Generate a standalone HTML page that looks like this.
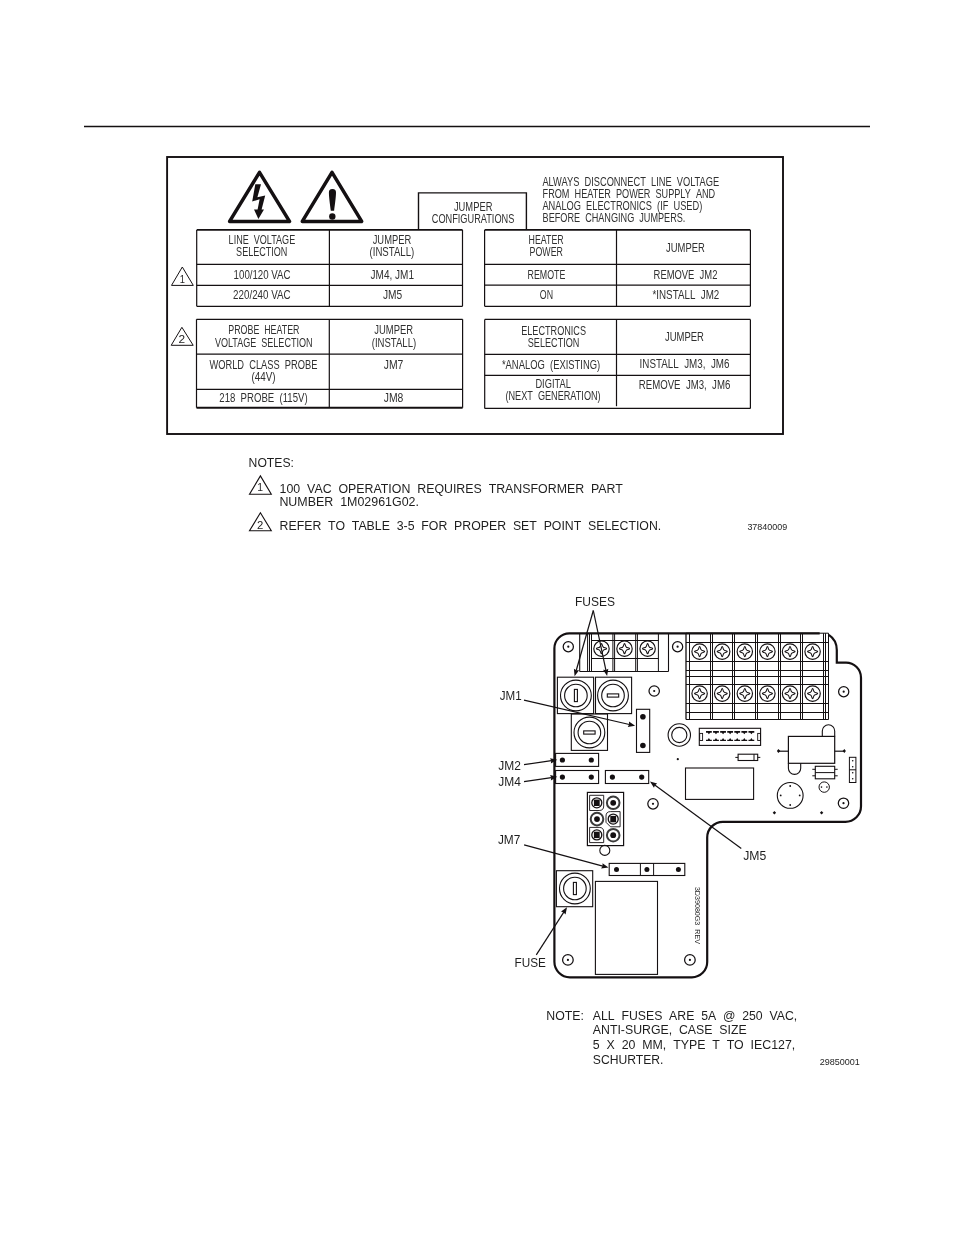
<!DOCTYPE html><html><head><meta charset="utf-8"><style>html,body{margin:0;padding:0;background:#fff;width:954px;height:1235px;overflow:hidden}svg{display:block;will-change:transform}text{font-family:"Liberation Sans",sans-serif}</style></head><body>
<svg width="954" height="1235" viewBox="0 0 954 1235">
<line x1="84" y1="126.5" x2="870" y2="126.5" stroke="#141012" stroke-width="1.4" />
<rect x="167.1" y="157" width="615.9" height="277" stroke="#141012" stroke-width="1.9" fill="none" />
<path d="M259.5,172.3 L289.5,221.4 L229.6,221.4 Z" fill="none" stroke="#141012" stroke-width="3.5" stroke-linejoin="round"/>
<path d="M332.0,172.3 L361.7,221.4 L302.3,221.4 Z" fill="none" stroke="#141012" stroke-width="3.5" stroke-linejoin="round"/>
<path d="M255.3,184.2 L261.0,184.2 L257.4,197.3 L265.2,195.6 L261.6,209.4 L264.0,209.4 L258.4,219 L254.0,209.4 L257.6,209.4 L259.6,199.3 L252.2,201.4 Z" fill="#141012"/>
<path d="M332.4,189 C335.2,189 336,190.5 336,192.5 C336,197 334.8,205 334.1,210.8 L330.8,210.8 C330.1,205 328.9,197 328.9,192.5 C328.9,190.5 329.7,189 332.4,189 Z" fill="#141012"/>
<circle cx="332.3" cy="216.5" r="3.2" fill="#141012"/>
<path d="M418.5,229.9 L418.5,192.9 L526.4,192.9 L526.4,229.9" fill="none" stroke="#141012" stroke-width="1.4"/>
<line x1="196.7" y1="229.9" x2="462.5" y2="229.9" stroke="#141012" stroke-width="1.8" />
<line x1="196.7" y1="306.3" x2="462.5" y2="306.3" stroke="#141012" stroke-width="1.2" />
<line x1="196.7" y1="229.9" x2="196.7" y2="306.3" stroke="#141012" stroke-width="1.2" />
<line x1="462.5" y1="229.9" x2="462.5" y2="306.3" stroke="#141012" stroke-width="1.2" />
<line x1="329.4" y1="229.9" x2="329.4" y2="306.3" stroke="#141012" stroke-width="1.2" />
<line x1="196.7" y1="264.3" x2="462.5" y2="264.3" stroke="#141012" stroke-width="1.2" />
<line x1="196.7" y1="285.4" x2="462.5" y2="285.4" stroke="#141012" stroke-width="1.2" />
<line x1="484.6" y1="229.9" x2="750.4" y2="229.9" stroke="#141012" stroke-width="1.8" />
<line x1="484.6" y1="306.3" x2="750.4" y2="306.3" stroke="#141012" stroke-width="1.2" />
<line x1="484.6" y1="229.9" x2="484.6" y2="306.3" stroke="#141012" stroke-width="1.2" />
<line x1="750.4" y1="229.9" x2="750.4" y2="306.3" stroke="#141012" stroke-width="1.2" />
<line x1="616.5" y1="229.9" x2="616.5" y2="306.3" stroke="#141012" stroke-width="1.2" />
<line x1="484.6" y1="264.3" x2="750.4" y2="264.3" stroke="#141012" stroke-width="1.2" />
<line x1="484.6" y1="285.2" x2="750.4" y2="285.2" stroke="#141012" stroke-width="1.2" />
<line x1="196.5" y1="319.3" x2="462.6" y2="319.3" stroke="#141012" stroke-width="1.3" />
<line x1="196.5" y1="407.7" x2="462.6" y2="407.7" stroke="#141012" stroke-width="2.0" />
<line x1="196.5" y1="319.3" x2="196.5" y2="407.7" stroke="#141012" stroke-width="1.2" />
<line x1="462.6" y1="319.3" x2="462.6" y2="407.7" stroke="#141012" stroke-width="1.2" />
<line x1="329.3" y1="319.3" x2="329.3" y2="407.7" stroke="#141012" stroke-width="1.2" />
<line x1="196.5" y1="354.1" x2="462.6" y2="354.1" stroke="#141012" stroke-width="1.2" />
<line x1="196.5" y1="389.3" x2="462.6" y2="389.3" stroke="#141012" stroke-width="1.2" />
<line x1="484.7" y1="319.4" x2="750.4" y2="319.4" stroke="#141012" stroke-width="1.3" />
<line x1="484.7" y1="408.4" x2="750.4" y2="408.4" stroke="#141012" stroke-width="1.3" />
<line x1="484.7" y1="319.4" x2="484.7" y2="408.4" stroke="#141012" stroke-width="1.2" />
<line x1="750.4" y1="319.4" x2="750.4" y2="408.4" stroke="#141012" stroke-width="1.2" />
<line x1="616.5" y1="319.4" x2="616.5" y2="406.2" stroke="#141012" stroke-width="1.2" />
<line x1="484.7" y1="354.4" x2="750.4" y2="354.4" stroke="#141012" stroke-width="1.2" />
<line x1="484.7" y1="375.4" x2="750.4" y2="375.4" stroke="#141012" stroke-width="1.2" />
<path d="M182.3,267.0 L193.3,285.4 L171.5,285.4 Z" fill="none" stroke="#141012" stroke-width="1.0" stroke-linejoin="miter"/>
<text x="179.8" y="282.6" font-size="11.5" fill="#1e1e1e" textLength="5.2" lengthAdjust="spacingAndGlyphs" >1</text>
<path d="M181.9,327.3 L193.2,345.3 L171.2,345.3 Z" fill="none" stroke="#141012" stroke-width="1.0" stroke-linejoin="miter"/>
<text x="178.6" y="343.0" font-size="11.5" fill="#1e1e1e" textLength="6.6" lengthAdjust="spacingAndGlyphs" >2</text>
<text x="228.6" y="243.7" font-size="12.9" fill="#303030" textLength="66.6" lengthAdjust="spacingAndGlyphs" >LINE&#160;&#160;VOLTAGE</text>
<text x="236.1" y="255.9" font-size="12.9" fill="#303030" textLength="51.3" lengthAdjust="spacingAndGlyphs" >SELECTION</text>
<text x="372.7" y="243.9" font-size="12.9" fill="#303030" textLength="38.5" lengthAdjust="spacingAndGlyphs" >JUMPER</text>
<text x="369.5" y="255.7" font-size="12.9" fill="#303030" textLength="44.8" lengthAdjust="spacingAndGlyphs" >(INSTALL)</text>
<text x="233.6" y="279.0" font-size="12.9" fill="#303030" textLength="57.0" lengthAdjust="spacingAndGlyphs" >100/120&#160;VAC</text>
<text x="233.1" y="298.8" font-size="12.9" fill="#303030" textLength="57.5" lengthAdjust="spacingAndGlyphs" >220/240&#160;VAC</text>
<text x="370.6" y="278.8" font-size="12.9" fill="#303030" textLength="43.4" lengthAdjust="spacingAndGlyphs" >JM4,&#160;JM1</text>
<text x="382.9" y="298.9" font-size="12.9" fill="#303030" textLength="19.2" lengthAdjust="spacingAndGlyphs" >JM5</text>
<text x="453.9" y="210.9" font-size="12.9" fill="#303030" textLength="38.5" lengthAdjust="spacingAndGlyphs" >JUMPER</text>
<text x="431.8" y="222.7" font-size="12.9" fill="#303030" textLength="82.5" lengthAdjust="spacingAndGlyphs" >CONFIGURATIONS</text>
<text x="542.4" y="185.8" font-size="12.9" fill="#303030" textLength="176.8" lengthAdjust="spacingAndGlyphs" >ALWAYS&#160;&#160;DISCONNECT&#160;&#160;LINE&#160;&#160;VOLTAGE</text>
<text x="542.6" y="197.8" font-size="12.9" fill="#303030" textLength="172.6" lengthAdjust="spacingAndGlyphs" >FROM&#160;&#160;HEATER&#160;&#160;POWER&#160;&#160;SUPPLY&#160;&#160;AND</text>
<text x="542.4" y="209.8" font-size="12.9" fill="#303030" textLength="159.9" lengthAdjust="spacingAndGlyphs" >ANALOG&#160;&#160;ELECTRONICS&#160;&#160;(IF&#160;&#160;USED)</text>
<text x="542.6" y="222.4" font-size="12.9" fill="#303030" textLength="142.8" lengthAdjust="spacingAndGlyphs" >BEFORE&#160;&#160;CHANGING&#160;&#160;JUMPERS.</text>
<text x="528.6" y="243.9" font-size="12.9" fill="#303030" textLength="35.1" lengthAdjust="spacingAndGlyphs" >HEATER</text>
<text x="529.6" y="255.7" font-size="12.9" fill="#303030" textLength="33.3" lengthAdjust="spacingAndGlyphs" >POWER</text>
<text x="666.1" y="252.0" font-size="12.9" fill="#303030" textLength="38.7" lengthAdjust="spacingAndGlyphs" >JUMPER</text>
<text x="527.5" y="278.8" font-size="12.9" fill="#303030" textLength="37.8" lengthAdjust="spacingAndGlyphs" >REMOTE</text>
<text x="539.8" y="298.9" font-size="12.9" fill="#303030" textLength="13.2" lengthAdjust="spacingAndGlyphs" >ON</text>
<text x="653.6" y="278.8" font-size="12.9" fill="#303030" textLength="63.8" lengthAdjust="spacingAndGlyphs" >REMOVE&#160;&#160;JM2</text>
<text x="652.5" y="298.9" font-size="12.9" fill="#303030" textLength="66.8" lengthAdjust="spacingAndGlyphs" >*INSTALL&#160;&#160;JM2</text>
<text x="228.3" y="334.1" font-size="12.9" fill="#303030" textLength="71.2" lengthAdjust="spacingAndGlyphs" >PROBE&#160;&#160;HEATER</text>
<text x="214.9" y="346.9" font-size="12.9" fill="#303030" textLength="97.6" lengthAdjust="spacingAndGlyphs" >VOLTAGE&#160;&#160;SELECTION</text>
<text x="209.5" y="368.8" font-size="12.9" fill="#303030" textLength="107.9" lengthAdjust="spacingAndGlyphs" >WORLD&#160;&#160;CLASS&#160;&#160;PROBE</text>
<text x="251.4" y="380.6" font-size="12.9" fill="#303030" textLength="24.1" lengthAdjust="spacingAndGlyphs" >(44V)</text>
<text x="219.3" y="401.8" font-size="12.9" fill="#303030" textLength="88.3" lengthAdjust="spacingAndGlyphs" >218&#160;&#160;PROBE&#160;&#160;(115V)</text>
<text x="374.3" y="334.1" font-size="12.9" fill="#303030" textLength="38.7" lengthAdjust="spacingAndGlyphs" >JUMPER</text>
<text x="371.7" y="346.9" font-size="12.9" fill="#303030" textLength="44.5" lengthAdjust="spacingAndGlyphs" >(INSTALL)</text>
<text x="383.8" y="368.8" font-size="12.9" fill="#303030" textLength="19.6" lengthAdjust="spacingAndGlyphs" >JM7</text>
<text x="383.8" y="401.8" font-size="12.9" fill="#303030" textLength="19.6" lengthAdjust="spacingAndGlyphs" >JM8</text>
<text x="521.2" y="334.7" font-size="12.9" fill="#303030" textLength="64.8" lengthAdjust="spacingAndGlyphs" >ELECTRONICS</text>
<text x="527.8" y="346.6" font-size="12.9" fill="#303030" textLength="51.6" lengthAdjust="spacingAndGlyphs" >SELECTION</text>
<text x="501.9" y="368.5" font-size="12.9" fill="#303030" textLength="98.3" lengthAdjust="spacingAndGlyphs" >*ANALOG&#160;&#160;(EXISTING)</text>
<text x="535.4" y="388.3" font-size="12.9" fill="#303030" textLength="35.4" lengthAdjust="spacingAndGlyphs" >DIGITAL</text>
<text x="505.5" y="400.4" font-size="12.9" fill="#303030" textLength="95.1" lengthAdjust="spacingAndGlyphs" >(NEXT&#160;&#160;GENERATION)</text>
<text x="665.0" y="340.7" font-size="12.9" fill="#303030" textLength="38.9" lengthAdjust="spacingAndGlyphs" >JUMPER</text>
<text x="639.6" y="367.9" font-size="12.9" fill="#303030" textLength="89.9" lengthAdjust="spacingAndGlyphs" >INSTALL&#160;&#160;JM3,&#160;&#160;JM6</text>
<text x="638.8" y="388.6" font-size="12.9" fill="#303030" textLength="91.5" lengthAdjust="spacingAndGlyphs" >REMOVE&#160;&#160;JM3,&#160;&#160;JM6</text>
<text x="248.6" y="466.9" font-size="12.0" fill="#1e1e1e" textLength="45.3" lengthAdjust="spacingAndGlyphs" >NOTES:</text>
<path d="M260.4,475.9 L271.3,494.3 L249.5,494.3 Z" fill="none" stroke="#141012" stroke-width="1.1" stroke-linejoin="miter"/>
<text x="257.2" y="491.4" font-size="10.5" fill="#1e1e1e" textLength="5.8" lengthAdjust="spacingAndGlyphs" >1</text>
<text x="279.6" y="492.8" font-size="12.0" fill="#1e1e1e" textLength="343.2" lengthAdjust="spacingAndGlyphs" >100&#160;&#160;VAC&#160;&#160;OPERATION&#160;&#160;REQUIRES&#160;&#160;TRANSFORMER&#160;&#160;PART</text>
<text x="279.4" y="505.7" font-size="12.0" fill="#1e1e1e" textLength="139.6" lengthAdjust="spacingAndGlyphs" >NUMBER&#160;&#160;1M02961G02.</text>
<path d="M260.4,512.8 L271.3,530.8 L249.5,530.8 Z" fill="none" stroke="#141012" stroke-width="1.1" stroke-linejoin="miter"/>
<text x="257.0" y="528.7" font-size="10.5" fill="#1e1e1e" textLength="6.3" lengthAdjust="spacingAndGlyphs" >2</text>
<text x="279.6" y="529.8" font-size="12.0" fill="#1e1e1e" textLength="381.6" lengthAdjust="spacingAndGlyphs" >REFER&#160;&#160;TO&#160;&#160;TABLE&#160;&#160;3-5&#160;&#160;FOR&#160;&#160;PROPER&#160;&#160;SET&#160;&#160;POINT&#160;&#160;SELECTION.</text>
<text x="747.4" y="529.8" font-size="9.5" fill="#1e1e1e" textLength="39.8" lengthAdjust="spacingAndGlyphs" >37840009</text>
<path d="M819.7,633.3 L569.4,633.3 A15,15 0 0 0 554.4,648.3 L554.4,961.8 A15.5,15.5 0 0 0 569.9,977.3 L691.9,977.3 A15.3,15.3 0 0 0 707.2,962 L707.2,837.5 A15.7,15.7 0 0 1 722.9,821.8 L845.4,821.8 A15.6,15.6 0 0 0 861.0,806.2 L861.0,677.7 A15,15 0 0 0 846,662.7 L836.8,662.7 L836.8,650 Q836.8,640 828.8,634.8" fill="none" stroke="#141012" stroke-width="2.2"/>
<line x1="579.7" y1="633.3" x2="579.7" y2="671.5" stroke="#141012" stroke-width="1.1" />
<line x1="579.7" y1="671.5" x2="668.5" y2="671.5" stroke="#141012" stroke-width="1.2" />
<line x1="668.5" y1="633.3" x2="668.5" y2="671.5" stroke="#141012" stroke-width="1.1" />
<line x1="587.6" y1="633.3" x2="587.6" y2="671.5" stroke="#141012" stroke-width="1.0" />
<line x1="589.5" y1="633.3" x2="589.5" y2="671.5" stroke="#141012" stroke-width="1.0" />
<line x1="591.5" y1="633.3" x2="591.5" y2="671.5" stroke="#141012" stroke-width="1.0" />
<line x1="612.9" y1="633.3" x2="612.9" y2="671.5" stroke="#141012" stroke-width="1.0" />
<line x1="614.6" y1="633.3" x2="614.6" y2="671.5" stroke="#141012" stroke-width="1.0" />
<line x1="635.7" y1="633.3" x2="635.7" y2="671.5" stroke="#141012" stroke-width="1.0" />
<line x1="637.4" y1="633.3" x2="637.4" y2="671.5" stroke="#141012" stroke-width="1.0" />
<line x1="658.4" y1="633.3" x2="658.4" y2="671.5" stroke="#141012" stroke-width="1.0" />
<line x1="591.5" y1="640.5" x2="658.4" y2="640.5" stroke="#141012" stroke-width="1.0" />
<line x1="591.5" y1="658.5" x2="658.4" y2="658.5" stroke="#141012" stroke-width="1.0" />
<circle cx="601.5" cy="648.7" r="7.7" stroke="#141012" stroke-width="1.15" fill="none"/>
<path d="M601.5,643.6 C602.35,643.6 602.3,646.6 603.25,646.95 C603.6,647.9000000000001 606.6,647.85 606.6,648.7 C606.6,649.5500000000001 603.6,649.5 603.25,650.45 C602.3,650.8000000000001 602.35,653.8000000000001 601.5,653.8000000000001 C600.65,653.8000000000001 600.7,650.8000000000001 599.75,650.45 C599.4,649.5 596.4,649.5500000000001 596.4,648.7 C596.4,647.85 599.4,647.9000000000001 599.75,646.95 C600.7,646.6 600.65,643.6 601.5,643.6 Z" fill="none" stroke="#141012" stroke-width="1.05"/>
<circle cx="624.5" cy="648.7" r="7.7" stroke="#141012" stroke-width="1.15" fill="none"/>
<path d="M624.5,643.6 C625.35,643.6 625.3,646.6 626.25,646.95 C626.6,647.9000000000001 629.6,647.85 629.6,648.7 C629.6,649.5500000000001 626.6,649.5 626.25,650.45 C625.3,650.8000000000001 625.35,653.8000000000001 624.5,653.8000000000001 C623.65,653.8000000000001 623.7,650.8000000000001 622.75,650.45 C622.4,649.5 619.4,649.5500000000001 619.4,648.7 C619.4,647.85 622.4,647.9000000000001 622.75,646.95 C623.7,646.6 623.65,643.6 624.5,643.6 Z" fill="none" stroke="#141012" stroke-width="1.05"/>
<circle cx="647.6" cy="648.7" r="7.7" stroke="#141012" stroke-width="1.15" fill="none"/>
<path d="M647.6,643.6 C648.45,643.6 648.4,646.6 649.35,646.95 C649.7,647.9000000000001 652.7,647.85 652.7,648.7 C652.7,649.5500000000001 649.7,649.5 649.35,650.45 C648.4,650.8000000000001 648.45,653.8000000000001 647.6,653.8000000000001 C646.75,653.8000000000001 646.8000000000001,650.8000000000001 645.85,650.45 C645.5,649.5 642.5,649.5500000000001 642.5,648.7 C642.5,647.85 645.5,647.9000000000001 645.85,646.95 C646.8000000000001,646.6 646.75,643.6 647.6,643.6 Z" fill="none" stroke="#141012" stroke-width="1.05"/>
<circle cx="568.3" cy="646.7" r="5.1" stroke="#141012" stroke-width="1.25" fill="none"/>
<circle cx="568.3" cy="646.7" r="1.1" fill="#141012"/>
<circle cx="677.6" cy="646.7" r="5.1" stroke="#141012" stroke-width="1.25" fill="none"/>
<circle cx="677.6" cy="646.7" r="1.1" fill="#141012"/>
<circle cx="654.2" cy="691.0" r="5.2" stroke="#141012" stroke-width="1.25" fill="none"/>
<circle cx="654.2" cy="691.0" r="1.1" fill="#141012"/>
<circle cx="843.7" cy="691.7" r="5.1" stroke="#141012" stroke-width="1.25" fill="none"/>
<circle cx="843.7" cy="691.7" r="1.1" fill="#141012"/>
<circle cx="653.0" cy="803.8" r="5.2" stroke="#141012" stroke-width="1.25" fill="none"/>
<circle cx="653.0" cy="803.8" r="1.1" fill="#141012"/>
<circle cx="843.5" cy="803.2" r="5.2" stroke="#141012" stroke-width="1.25" fill="none"/>
<circle cx="843.5" cy="803.2" r="1.1" fill="#141012"/>
<circle cx="567.9" cy="959.9" r="5.3" stroke="#141012" stroke-width="1.25" fill="none"/>
<circle cx="567.9" cy="959.9" r="1.1" fill="#141012"/>
<circle cx="689.9" cy="959.9" r="5.3" stroke="#141012" stroke-width="1.25" fill="none"/>
<circle cx="689.9" cy="959.9" r="1.1" fill="#141012"/>
<line x1="686.0" y1="633.2" x2="686.0" y2="719.5" stroke="#141012" stroke-width="1.3" />
<line x1="689.5" y1="633.2" x2="689.5" y2="719.5" stroke="#141012" stroke-width="1.0" />
<line x1="710.5" y1="633.2" x2="710.5" y2="719.5" stroke="#141012" stroke-width="1.0" />
<line x1="712.5" y1="633.2" x2="712.5" y2="719.5" stroke="#141012" stroke-width="1.0" />
<line x1="732.5" y1="633.2" x2="732.5" y2="719.5" stroke="#141012" stroke-width="1.0" />
<line x1="734.5" y1="633.2" x2="734.5" y2="719.5" stroke="#141012" stroke-width="1.0" />
<line x1="755.5" y1="633.2" x2="755.5" y2="719.5" stroke="#141012" stroke-width="1.0" />
<line x1="757.5" y1="633.2" x2="757.5" y2="719.5" stroke="#141012" stroke-width="1.0" />
<line x1="778.5" y1="633.2" x2="778.5" y2="719.5" stroke="#141012" stroke-width="1.0" />
<line x1="780.5" y1="633.2" x2="780.5" y2="719.5" stroke="#141012" stroke-width="1.0" />
<line x1="800.5" y1="633.2" x2="800.5" y2="719.5" stroke="#141012" stroke-width="1.0" />
<line x1="802.5" y1="633.2" x2="802.5" y2="719.5" stroke="#141012" stroke-width="1.0" />
<line x1="823.5" y1="633.2" x2="823.5" y2="719.5" stroke="#141012" stroke-width="1.0" />
<line x1="825.5" y1="633.2" x2="825.5" y2="719.5" stroke="#141012" stroke-width="1.0" />
<line x1="828.5" y1="633.2" x2="828.5" y2="719.5" stroke="#141012" stroke-width="1.0" />
<line x1="686.0" y1="633.2" x2="828.5" y2="633.2" stroke="#141012" stroke-width="1.0" />
<line x1="686.0" y1="642.5" x2="828.5" y2="642.5" stroke="#141012" stroke-width="1.0" />
<line x1="686.0" y1="661.5" x2="828.5" y2="661.5" stroke="#141012" stroke-width="1.0" />
<line x1="686.0" y1="670.5" x2="828.5" y2="670.5" stroke="#141012" stroke-width="1.0" />
<line x1="686.0" y1="676.5" x2="828.5" y2="676.5" stroke="#141012" stroke-width="1.0" />
<line x1="686.0" y1="684.5" x2="828.5" y2="684.5" stroke="#141012" stroke-width="1.0" />
<line x1="686.0" y1="703.5" x2="828.5" y2="703.5" stroke="#141012" stroke-width="1.0" />
<line x1="686.0" y1="712.5" x2="828.5" y2="712.5" stroke="#141012" stroke-width="1.0" />
<line x1="686.0" y1="719.5" x2="828.5" y2="719.5" stroke="#141012" stroke-width="1.0" />
<circle cx="699.6" cy="651.6" r="7.7" stroke="#141012" stroke-width="1.15" fill="none"/>
<path d="M699.6,646.5 C700.45,646.5 700.4,649.5 701.35,649.85 C701.7,650.8000000000001 704.7,650.75 704.7,651.6 C704.7,652.45 701.7,652.4 701.35,653.35 C700.4,653.7 700.45,656.7 699.6,656.7 C698.75,656.7 698.8000000000001,653.7 697.85,653.35 C697.5,652.4 694.5,652.45 694.5,651.6 C694.5,650.75 697.5,650.8000000000001 697.85,649.85 C698.8000000000001,649.5 698.75,646.5 699.6,646.5 Z" fill="none" stroke="#141012" stroke-width="1.05"/>
<circle cx="699.6" cy="693.6" r="7.7" stroke="#141012" stroke-width="1.15" fill="none"/>
<path d="M699.6,688.5 C700.45,688.5 700.4,691.5 701.35,691.85 C701.7,692.8000000000001 704.7,692.75 704.7,693.6 C704.7,694.45 701.7,694.4 701.35,695.35 C700.4,695.7 700.45,698.7 699.6,698.7 C698.75,698.7 698.8000000000001,695.7 697.85,695.35 C697.5,694.4 694.5,694.45 694.5,693.6 C694.5,692.75 697.5,692.8000000000001 697.85,691.85 C698.8000000000001,691.5 698.75,688.5 699.6,688.5 Z" fill="none" stroke="#141012" stroke-width="1.05"/>
<circle cx="722.2" cy="651.6" r="7.7" stroke="#141012" stroke-width="1.15" fill="none"/>
<path d="M722.2,646.5 C723.0500000000001,646.5 723.0,649.5 723.95,649.85 C724.3000000000001,650.8000000000001 727.3000000000001,650.75 727.3000000000001,651.6 C727.3000000000001,652.45 724.3000000000001,652.4 723.95,653.35 C723.0,653.7 723.0500000000001,656.7 722.2,656.7 C721.35,656.7 721.4000000000001,653.7 720.45,653.35 C720.1,652.4 717.1,652.45 717.1,651.6 C717.1,650.75 720.1,650.8000000000001 720.45,649.85 C721.4000000000001,649.5 721.35,646.5 722.2,646.5 Z" fill="none" stroke="#141012" stroke-width="1.05"/>
<circle cx="722.2" cy="693.6" r="7.7" stroke="#141012" stroke-width="1.15" fill="none"/>
<path d="M722.2,688.5 C723.0500000000001,688.5 723.0,691.5 723.95,691.85 C724.3000000000001,692.8000000000001 727.3000000000001,692.75 727.3000000000001,693.6 C727.3000000000001,694.45 724.3000000000001,694.4 723.95,695.35 C723.0,695.7 723.0500000000001,698.7 722.2,698.7 C721.35,698.7 721.4000000000001,695.7 720.45,695.35 C720.1,694.4 717.1,694.45 717.1,693.6 C717.1,692.75 720.1,692.8000000000001 720.45,691.85 C721.4000000000001,691.5 721.35,688.5 722.2,688.5 Z" fill="none" stroke="#141012" stroke-width="1.05"/>
<circle cx="744.8000000000001" cy="651.6" r="7.7" stroke="#141012" stroke-width="1.15" fill="none"/>
<path d="M744.8000000000001,646.5 C745.6500000000001,646.5 745.6,649.5 746.5500000000001,649.85 C746.9000000000001,650.8000000000001 749.9000000000001,650.75 749.9000000000001,651.6 C749.9000000000001,652.45 746.9000000000001,652.4 746.5500000000001,653.35 C745.6,653.7 745.6500000000001,656.7 744.8000000000001,656.7 C743.95,656.7 744.0000000000001,653.7 743.0500000000001,653.35 C742.7,652.4 739.7,652.45 739.7,651.6 C739.7,650.75 742.7,650.8000000000001 743.0500000000001,649.85 C744.0000000000001,649.5 743.95,646.5 744.8000000000001,646.5 Z" fill="none" stroke="#141012" stroke-width="1.05"/>
<circle cx="744.8000000000001" cy="693.6" r="7.7" stroke="#141012" stroke-width="1.15" fill="none"/>
<path d="M744.8000000000001,688.5 C745.6500000000001,688.5 745.6,691.5 746.5500000000001,691.85 C746.9000000000001,692.8000000000001 749.9000000000001,692.75 749.9000000000001,693.6 C749.9000000000001,694.45 746.9000000000001,694.4 746.5500000000001,695.35 C745.6,695.7 745.6500000000001,698.7 744.8000000000001,698.7 C743.95,698.7 744.0000000000001,695.7 743.0500000000001,695.35 C742.7,694.4 739.7,694.45 739.7,693.6 C739.7,692.75 742.7,692.8000000000001 743.0500000000001,691.85 C744.0000000000001,691.5 743.95,688.5 744.8000000000001,688.5 Z" fill="none" stroke="#141012" stroke-width="1.05"/>
<circle cx="767.4000000000001" cy="651.6" r="7.7" stroke="#141012" stroke-width="1.15" fill="none"/>
<path d="M767.4000000000001,646.5 C768.2500000000001,646.5 768.2,649.5 769.1500000000001,649.85 C769.5000000000001,650.8000000000001 772.5000000000001,650.75 772.5000000000001,651.6 C772.5000000000001,652.45 769.5000000000001,652.4 769.1500000000001,653.35 C768.2,653.7 768.2500000000001,656.7 767.4000000000001,656.7 C766.5500000000001,656.7 766.6000000000001,653.7 765.6500000000001,653.35 C765.3000000000001,652.4 762.3000000000001,652.45 762.3000000000001,651.6 C762.3000000000001,650.75 765.3000000000001,650.8000000000001 765.6500000000001,649.85 C766.6000000000001,649.5 766.5500000000001,646.5 767.4000000000001,646.5 Z" fill="none" stroke="#141012" stroke-width="1.05"/>
<circle cx="767.4000000000001" cy="693.6" r="7.7" stroke="#141012" stroke-width="1.15" fill="none"/>
<path d="M767.4000000000001,688.5 C768.2500000000001,688.5 768.2,691.5 769.1500000000001,691.85 C769.5000000000001,692.8000000000001 772.5000000000001,692.75 772.5000000000001,693.6 C772.5000000000001,694.45 769.5000000000001,694.4 769.1500000000001,695.35 C768.2,695.7 768.2500000000001,698.7 767.4000000000001,698.7 C766.5500000000001,698.7 766.6000000000001,695.7 765.6500000000001,695.35 C765.3000000000001,694.4 762.3000000000001,694.45 762.3000000000001,693.6 C762.3000000000001,692.75 765.3000000000001,692.8000000000001 765.6500000000001,691.85 C766.6000000000001,691.5 766.5500000000001,688.5 767.4000000000001,688.5 Z" fill="none" stroke="#141012" stroke-width="1.05"/>
<circle cx="790.0" cy="651.6" r="7.7" stroke="#141012" stroke-width="1.15" fill="none"/>
<path d="M790.0,646.5 C790.85,646.5 790.8,649.5 791.75,649.85 C792.1,650.8000000000001 795.1,650.75 795.1,651.6 C795.1,652.45 792.1,652.4 791.75,653.35 C790.8,653.7 790.85,656.7 790.0,656.7 C789.15,656.7 789.2,653.7 788.25,653.35 C787.9,652.4 784.9,652.45 784.9,651.6 C784.9,650.75 787.9,650.8000000000001 788.25,649.85 C789.2,649.5 789.15,646.5 790.0,646.5 Z" fill="none" stroke="#141012" stroke-width="1.05"/>
<circle cx="790.0" cy="693.6" r="7.7" stroke="#141012" stroke-width="1.15" fill="none"/>
<path d="M790.0,688.5 C790.85,688.5 790.8,691.5 791.75,691.85 C792.1,692.8000000000001 795.1,692.75 795.1,693.6 C795.1,694.45 792.1,694.4 791.75,695.35 C790.8,695.7 790.85,698.7 790.0,698.7 C789.15,698.7 789.2,695.7 788.25,695.35 C787.9,694.4 784.9,694.45 784.9,693.6 C784.9,692.75 787.9,692.8000000000001 788.25,691.85 C789.2,691.5 789.15,688.5 790.0,688.5 Z" fill="none" stroke="#141012" stroke-width="1.05"/>
<circle cx="812.6" cy="651.6" r="7.7" stroke="#141012" stroke-width="1.15" fill="none"/>
<path d="M812.6,646.5 C813.45,646.5 813.4,649.5 814.35,649.85 C814.7,650.8000000000001 817.7,650.75 817.7,651.6 C817.7,652.45 814.7,652.4 814.35,653.35 C813.4,653.7 813.45,656.7 812.6,656.7 C811.75,656.7 811.8000000000001,653.7 810.85,653.35 C810.5,652.4 807.5,652.45 807.5,651.6 C807.5,650.75 810.5,650.8000000000001 810.85,649.85 C811.8000000000001,649.5 811.75,646.5 812.6,646.5 Z" fill="none" stroke="#141012" stroke-width="1.05"/>
<circle cx="812.6" cy="693.6" r="7.7" stroke="#141012" stroke-width="1.15" fill="none"/>
<path d="M812.6,688.5 C813.45,688.5 813.4,691.5 814.35,691.85 C814.7,692.8000000000001 817.7,692.75 817.7,693.6 C817.7,694.45 814.7,694.4 814.35,695.35 C813.4,695.7 813.45,698.7 812.6,698.7 C811.75,698.7 811.8000000000001,695.7 810.85,695.35 C810.5,694.4 807.5,694.45 807.5,693.6 C807.5,692.75 810.5,692.8000000000001 810.85,691.85 C811.8000000000001,691.5 811.75,688.5 812.6,688.5 Z" fill="none" stroke="#141012" stroke-width="1.05"/>
<rect x="557.4" y="677.2" width="36.2" height="36.4" stroke="#141012" stroke-width="1.1" fill="none" />
<circle cx="575.9" cy="695.5" r="15.4" stroke="#141012" stroke-width="1.1" fill="none"/>
<circle cx="575.9" cy="695.5" r="11.3" stroke="#141012" stroke-width="1.1" fill="none"/>
<rect x="574.4" y="689.4" width="3.0" height="12.2" stroke="#141012" stroke-width="1.1" fill="none" />
<rect x="595.5" y="677.2" width="36.1" height="36.4" stroke="#141012" stroke-width="1.1" fill="none" />
<circle cx="613.0" cy="695.5" r="15.4" stroke="#141012" stroke-width="1.1" fill="none"/>
<circle cx="613.0" cy="695.5" r="11.3" stroke="#141012" stroke-width="1.1" fill="none"/>
<rect x="607.3" y="693.9" width="11.4" height="3.2" stroke="#141012" stroke-width="1.1" fill="none" />
<rect x="571.3" y="714.0" width="36.2" height="36.4" stroke="#141012" stroke-width="1.1" fill="none" />
<circle cx="589.4" cy="732.5" r="15.4" stroke="#141012" stroke-width="1.1" fill="none"/>
<circle cx="589.4" cy="732.5" r="11.3" stroke="#141012" stroke-width="1.1" fill="none"/>
<rect x="583.6999999999999" y="730.9" width="11.4" height="3.2" stroke="#141012" stroke-width="1.1" fill="none" />
<rect x="556.4" y="870.7" width="36.3" height="36.0" stroke="#141012" stroke-width="1.1" fill="none" />
<circle cx="574.9" cy="888.5" r="15.4" stroke="#141012" stroke-width="1.1" fill="none"/>
<circle cx="574.9" cy="888.5" r="11.3" stroke="#141012" stroke-width="1.1" fill="none"/>
<rect x="573.4" y="882.4" width="3.0" height="12.2" stroke="#141012" stroke-width="1.1" fill="none" />
<rect x="636.5" y="709.3" width="13.2" height="43.1" stroke="#141012" stroke-width="1.1" fill="none" />
<circle cx="642.9" cy="716.8" r="2.8" fill="#141012"/>
<circle cx="642.9" cy="745.5" r="2.8" fill="#141012"/>
<circle cx="679.3" cy="735.0" r="11.2" stroke="#141012" stroke-width="1.1" fill="none"/>
<circle cx="679.3" cy="735.0" r="7.6" stroke="#141012" stroke-width="1.1" fill="none"/>
<rect x="699.3" y="728.3" width="61.3" height="17.1" stroke="#141012" stroke-width="1.1" fill="none" />
<rect x="699.7" y="733.4" width="2.9" height="7.1" stroke="#141012" stroke-width="0.9" fill="none" />
<rect x="757.7" y="733.4" width="2.7" height="7.1" stroke="#141012" stroke-width="0.9" fill="none" />
<path d="M706.00,731.0 L711.80,731.0 L711.80,732.7 L710.10,732.7 L708.90,734.3 L707.70,732.7 L706.00,732.7 Z" fill="#141012"/>
<path d="M706.00,741.0 L711.80,741.0 L711.80,739.8 L710.10,739.8 L708.90,738.0 L707.70,739.8 L706.00,739.8 Z" fill="#141012"/>
<path d="M713.08,731.0 L718.88,731.0 L718.88,732.7 L717.18,732.7 L715.98,734.3 L714.78,732.7 L713.08,732.7 Z" fill="#141012"/>
<path d="M713.08,741.0 L718.88,741.0 L718.88,739.8 L717.18,739.8 L715.98,738.0 L714.78,739.8 L713.08,739.8 Z" fill="#141012"/>
<path d="M720.16,731.0 L725.96,731.0 L725.96,732.7 L724.26,732.7 L723.06,734.3 L721.86,732.7 L720.16,732.7 Z" fill="#141012"/>
<path d="M720.16,741.0 L725.96,741.0 L725.96,739.8 L724.26,739.8 L723.06,738.0 L721.86,739.8 L720.16,739.8 Z" fill="#141012"/>
<path d="M727.24,731.0 L733.04,731.0 L733.04,732.7 L731.34,732.7 L730.14,734.3 L728.94,732.7 L727.24,732.7 Z" fill="#141012"/>
<path d="M727.24,741.0 L733.04,741.0 L733.04,739.8 L731.34,739.8 L730.14,738.0 L728.94,739.8 L727.24,739.8 Z" fill="#141012"/>
<path d="M734.32,731.0 L740.12,731.0 L740.12,732.7 L738.42,732.7 L737.22,734.3 L736.02,732.7 L734.32,732.7 Z" fill="#141012"/>
<path d="M734.32,741.0 L740.12,741.0 L740.12,739.8 L738.42,739.8 L737.22,738.0 L736.02,739.8 L734.32,739.8 Z" fill="#141012"/>
<path d="M741.40,731.0 L747.20,731.0 L747.20,732.7 L745.50,732.7 L744.30,734.3 L743.10,732.7 L741.40,732.7 Z" fill="#141012"/>
<path d="M741.40,741.0 L747.20,741.0 L747.20,739.8 L745.50,739.8 L744.30,738.0 L743.10,739.8 L741.40,739.8 Z" fill="#141012"/>
<path d="M748.48,731.0 L754.28,731.0 L754.28,732.7 L752.58,732.7 L751.38,734.3 L750.18,732.7 L748.48,732.7 Z" fill="#141012"/>
<path d="M748.48,741.0 L754.28,741.0 L754.28,739.8 L752.58,739.8 L751.38,738.0 L750.18,739.8 L748.48,739.8 Z" fill="#141012"/>
<rect x="738.1" y="754.2" width="19.6" height="6.3" stroke="#141012" stroke-width="1.1" fill="none" />
<line x1="754.0" y1="754.2" x2="754.0" y2="760.5" stroke="#141012" stroke-width="1.0" />
<line x1="735.3" y1="757.4" x2="738.1" y2="757.4" stroke="#141012" stroke-width="1.0" />
<line x1="757.7" y1="757.4" x2="760.3" y2="757.4" stroke="#141012" stroke-width="1.0" />
<circle cx="677.8" cy="759.2" r="1.1" fill="#141012"/>
<rect x="685.5" y="768.0" width="68.1" height="31.4" stroke="#141012" stroke-width="1.1" fill="none" />
<rect x="788.4" y="736.4" width="46.3" height="26.9" stroke="#141012" stroke-width="1.2" fill="none" />
<path d="M822.3,736.4 L822.3,731 A6.2,6.2 0 0 1 834.7,731 L834.7,736.4" fill="none" stroke="#141012" stroke-width="1.1"/>
<path d="M788.4,763.3 L788.4,768.2 A6.15,6.15 0 0 0 800.7,768.2 L800.7,763.3" fill="none" stroke="#141012" stroke-width="1.1"/>
<line x1="779" y1="751.2" x2="788.4" y2="751.2" stroke="#141012" stroke-width="1.2" />
<line x1="834.7" y1="751.2" x2="844" y2="751.2" stroke="#141012" stroke-width="1.2" />
<path d="M776.9,751.1 L778.4,749.0 L780.3,751.1 L778.4,753.0 Z" fill="#141012"/>
<path d="M845.9,751.1 L844.4,749.0 L842.6,751.1 L844.4,753.0 Z" fill="#141012"/>
<rect x="815.3" y="766.3" width="19.4" height="12.5" stroke="#141012" stroke-width="1.1" fill="none" />
<line x1="815.3" y1="772.6" x2="834.7" y2="772.6" stroke="#141012" stroke-width="1.0" />
<line x1="812.3" y1="769.3" x2="815.3" y2="769.3" stroke="#141012" stroke-width="1.0" />
<line x1="834.7" y1="769.3" x2="837.7" y2="769.3" stroke="#141012" stroke-width="1.0" />
<line x1="812.3" y1="775.8" x2="815.3" y2="775.8" stroke="#141012" stroke-width="1.0" />
<line x1="834.7" y1="775.8" x2="837.7" y2="775.8" stroke="#141012" stroke-width="1.0" />
<rect x="849.4" y="757.3" width="6.5" height="25.2" stroke="#141012" stroke-width="1.0" fill="none" />
<line x1="849.4" y1="769.8" x2="855.9" y2="769.8" stroke="#141012" stroke-width="1.0" />
<circle cx="852.7" cy="760.8" r="0.8" fill="#141012"/>
<circle cx="852.7" cy="766.8" r="0.8" fill="#141012"/>
<circle cx="852.7" cy="772.8" r="0.8" fill="#141012"/>
<circle cx="852.7" cy="778.8" r="0.8" fill="#141012"/>
<circle cx="790.2" cy="795.4" r="12.9" stroke="#141012" stroke-width="1.1" fill="none"/>
<circle cx="790.2" cy="786.0" r="0.9" fill="#141012"/>
<circle cx="780.7" cy="795.4" r="0.9" fill="#141012"/>
<circle cx="799.7" cy="795.4" r="0.9" fill="#141012"/>
<circle cx="790.2" cy="805.0" r="0.9" fill="#141012"/>
<circle cx="824.2" cy="787.1" r="5.2" stroke="#141012" stroke-width="1.0" fill="none"/>
<circle cx="821.5" cy="787.1" r="0.8" fill="#141012"/>
<circle cx="826.9" cy="787.1" r="0.8" fill="#141012"/>
<path d="M774.4,811.0 L776.1,812.7 L774.4,814.4000000000001 L772.6999999999999,812.7 Z" fill="#141012"/>
<path d="M821.6,811.0 L823.3000000000001,812.7 L821.6,814.4000000000001 L819.9,812.7 Z" fill="#141012"/>
<rect x="555.6" y="753.4" width="43.0" height="13.0" stroke="#141012" stroke-width="1.1" fill="none" />
<circle cx="562.4" cy="760.0" r="2.6" fill="#141012"/>
<circle cx="591.3" cy="760.0" r="2.6" fill="#141012"/>
<rect x="555.6" y="770.5" width="43.0" height="13.0" stroke="#141012" stroke-width="1.1" fill="none" />
<circle cx="562.4" cy="777.1" r="2.6" fill="#141012"/>
<circle cx="591.3" cy="777.1" r="2.6" fill="#141012"/>
<rect x="605.4" y="770.5" width="43.3" height="13.0" stroke="#141012" stroke-width="1.1" fill="none" />
<circle cx="612.4" cy="777.1" r="2.6" fill="#141012"/>
<circle cx="641.7" cy="777.1" r="2.6" fill="#141012"/>
<rect x="587.4" y="792.4" width="36.2" height="53.2" stroke="#141012" stroke-width="1.2" fill="none" />
<path d="M589.5999999999999,795.3 L603.6999999999999,795.3 L603.6999999999999,806.0 Q603.6999999999999,810.5 599.1999999999999,810.5 L589.5999999999999,810.5 Z" fill="none" stroke="#141012" stroke-width="0.9"/>
<circle cx="596.8" cy="802.8" r="5.0" stroke="#141012" stroke-width="1.3" fill="none"/>
<rect x="593.9" y="799.5999999999999" width="5.8" height="6.4" stroke="#141012" stroke-width="0" fill="#141012" />
<circle cx="613.2" cy="802.8" r="6.3" stroke="#3a3a3a" stroke-width="2.0" fill="none"/>
<circle cx="613.2" cy="802.8" r="2.9" fill="#141012"/>
<circle cx="597.0" cy="819.1" r="6.3" stroke="#3a3a3a" stroke-width="2.0" fill="none"/>
<circle cx="597.0" cy="819.1" r="2.9" fill="#141012"/>
<path d="M610.5,811.6 L620.1,811.6 L620.1,826.8000000000001 L610.5,826.8000000000001 L606.0,822.3000000000001 L606.0,816.1 Q606.0,811.6 610.5,811.6 Z" fill="none" stroke="#141012" stroke-width="0.9"/>
<circle cx="613.2" cy="819.1" r="5.0" stroke="#141012" stroke-width="1.3" fill="none"/>
<rect x="610.3000000000001" y="815.9" width="5.8" height="6.4" stroke="#141012" stroke-width="0" fill="#141012" />
<path d="M589.5999999999999,827.4 L599.1999999999999,827.4 Q603.6999999999999,827.4 603.6999999999999,831.9 L603.6999999999999,842.6 L589.5999999999999,842.6 Z" fill="none" stroke="#141012" stroke-width="0.9"/>
<circle cx="596.8" cy="834.9" r="5.0" stroke="#141012" stroke-width="1.3" fill="none"/>
<rect x="593.9" y="831.6999999999999" width="5.8" height="6.4" stroke="#141012" stroke-width="0" fill="#141012" />
<circle cx="613.2" cy="835.2" r="6.3" stroke="#3a3a3a" stroke-width="2.0" fill="none"/>
<circle cx="613.2" cy="835.2" r="2.9" fill="#141012"/>
<circle cx="604.8" cy="850.4" r="5.0" stroke="#141012" stroke-width="1.1" fill="none"/>
<rect x="609.2" y="863.4" width="75.6" height="12.1" stroke="#141012" stroke-width="1.1" fill="none" />
<line x1="640.4" y1="863.4" x2="640.4" y2="875.5" stroke="#141012" stroke-width="1.0" />
<line x1="653.6" y1="863.4" x2="653.6" y2="875.5" stroke="#141012" stroke-width="1.0" />
<circle cx="616.5" cy="869.4" r="2.5" fill="#141012"/>
<circle cx="646.9" cy="869.4" r="2.5" fill="#141012"/>
<circle cx="678.4" cy="869.4" r="2.5" fill="#141012"/>
<rect x="595.4" y="881.4" width="62.1" height="93.0" stroke="#141012" stroke-width="1.1" fill="none" />
<text x="0" y="0" font-size="7.4" fill="#1e1e1e" textLength="57" lengthAdjust="spacingAndGlyphs" transform="translate(694.8,886.9) rotate(90)">3D39080G3&#160;&#160;REV</text>
<text x="574.9" y="605.9" font-size="12.0" fill="#1e1e1e" textLength="40.1" lengthAdjust="spacingAndGlyphs" >FUSES</text>
<line x1="593.3" y1="610.5" x2="576.22" y2="670.53" stroke="#141012" stroke-width="1.2" />
<path d="M574.60,676.20 L573.89,668.82 L576.30,670.24 L579.09,670.30 Z" fill="#141012"/>
<line x1="593.3" y1="610.5" x2="605.88" y2="670.23" stroke="#141012" stroke-width="1.2" />
<path d="M607.10,676.00 L603.04,669.80 L605.82,669.93 L608.32,668.69 Z" fill="#141012"/>
<text x="499.7" y="699.9" font-size="12.0" fill="#1e1e1e" textLength="21.9" lengthAdjust="spacingAndGlyphs" >JM1</text>
<line x1="524.0" y1="700.2" x2="629.35" y2="724.48" stroke="#141012" stroke-width="1.2" />
<path d="M635.10,725.80 L627.77,726.88 L629.06,724.41 L628.98,721.62 Z" fill="#141012"/>
<text x="498.3" y="769.9" font-size="12.0" fill="#1e1e1e" textLength="22.6" lengthAdjust="spacingAndGlyphs" >JM2</text>
<line x1="524.0" y1="764.7" x2="551.46" y2="760.66" stroke="#141012" stroke-width="1.2" />
<path d="M557.30,759.80 L550.87,763.48 L551.17,760.70 L550.08,758.13 Z" fill="#141012"/>
<text x="498.3" y="785.9" font-size="12.0" fill="#1e1e1e" textLength="22.6" lengthAdjust="spacingAndGlyphs" >JM4</text>
<line x1="524.0" y1="781.6" x2="551.46" y2="777.56" stroke="#141012" stroke-width="1.2" />
<path d="M557.30,776.70 L550.87,780.38 L551.17,777.60 L550.08,775.03 Z" fill="#141012"/>
<text x="497.9" y="844.1" font-size="12.0" fill="#1e1e1e" textLength="22.4" lengthAdjust="spacingAndGlyphs" >JM7</text>
<line x1="524.1" y1="844.8" x2="602.8" y2="866.06" stroke="#141012" stroke-width="1.2" />
<path d="M608.50,867.60 L601.13,868.41 L602.51,865.98 L602.54,863.19 Z" fill="#141012"/>
<text x="514.5" y="966.5" font-size="12.0" fill="#1e1e1e" textLength="31.4" lengthAdjust="spacingAndGlyphs" >FUSE</text>
<line x1="536.3" y1="954.9" x2="563.81" y2="912.16" stroke="#141012" stroke-width="1.2" />
<path d="M567.00,907.20 L565.54,914.46 L563.64,912.41 L561.00,911.54 Z" fill="#141012"/>
<text x="743.2" y="859.8" font-size="12.0" fill="#1e1e1e" textLength="23.0" lengthAdjust="spacingAndGlyphs" >JM5</text>
<line x1="741.3" y1="848.5" x2="654.76" y2="784.99" stroke="#141012" stroke-width="1.2" />
<path d="M650.00,781.50 L657.16,783.41 L655.00,785.17 L653.97,787.76 Z" fill="#141012"/>
<text x="546.3" y="1019.8" font-size="12.0" fill="#1e1e1e" textLength="37.6" lengthAdjust="spacingAndGlyphs" >NOTE:</text>
<text x="592.8" y="1019.8" font-size="12.0" fill="#1e1e1e" textLength="204.4" lengthAdjust="spacingAndGlyphs" >ALL&#160;&#160;FUSES&#160;&#160;ARE&#160;&#160;5A&#160;&#160;@&#160;&#160;250&#160;&#160;VAC,</text>
<text x="592.8" y="1033.9" font-size="12.0" fill="#1e1e1e" textLength="153.9" lengthAdjust="spacingAndGlyphs" >ANTI-SURGE,&#160;&#160;CASE&#160;&#160;SIZE</text>
<text x="592.8" y="1048.8" font-size="12.0" fill="#1e1e1e" textLength="202.4" lengthAdjust="spacingAndGlyphs" >5&#160;&#160;X&#160;&#160;20&#160;&#160;MM,&#160;&#160;TYPE&#160;&#160;T&#160;&#160;TO&#160;&#160;IEC127,</text>
<text x="592.8" y="1063.5" font-size="12.0" fill="#1e1e1e" textLength="70.7" lengthAdjust="spacingAndGlyphs" >SCHURTER.</text>
<text x="819.7" y="1065.0" font-size="9.5" fill="#1e1e1e" textLength="40.2" lengthAdjust="spacingAndGlyphs" >29850001</text>
</svg></body></html>
